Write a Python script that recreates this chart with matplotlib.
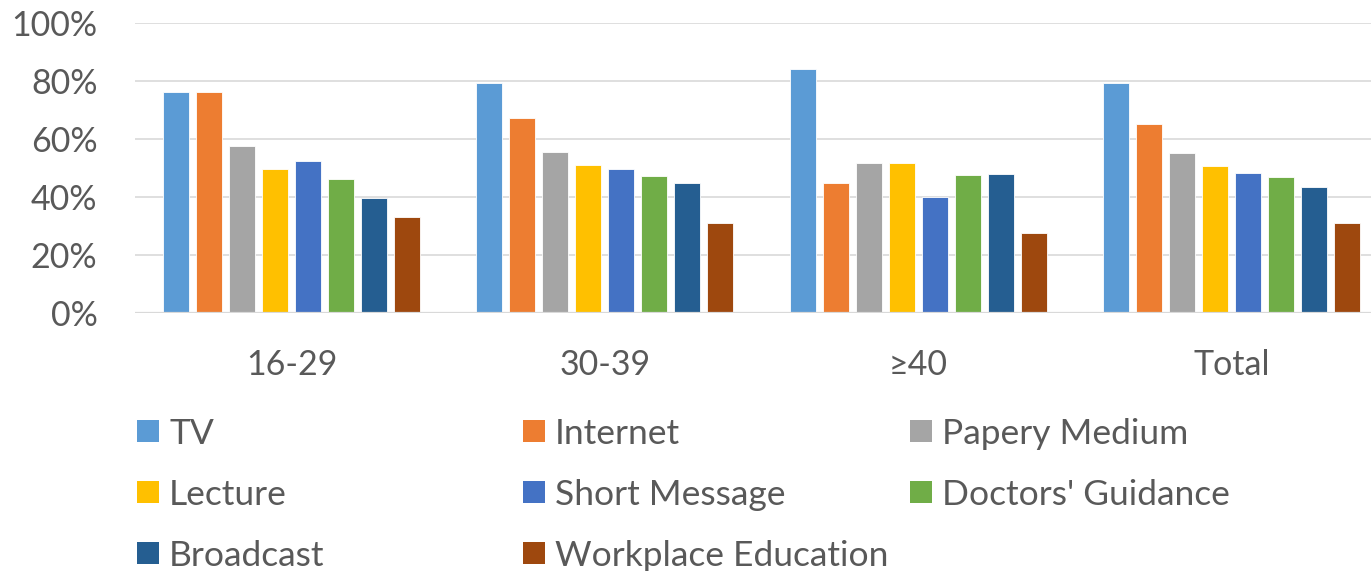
import numpy as np
import matplotlib.pyplot as plt
from matplotlib.patches import Rectangle

# ====== Data (percent of respondents) ======
groups = ["16-29", "30-39", "\u226540", "Total"]
sources = ["TV", "Internet", "Papery Medium", "Lecture", "Short Message",
           "Doctors' Guidance", "Broadcast", "Workplace Education"]

tv = [76.0, 79.3, 83.9, 79.1]
internet = [76.0, 67.0, 44.8, 65.2]
papery = [57.4, 55.3, 51.6, 55.2]
lecture = [49.4, 50.8, 51.6, 50.5]
short_msg = [52.3, 49.6, 40.0, 48.3]
doctors = [46.1, 47.2, 47.6, 46.8]
broadcast = [39.6, 44.6, 47.7, 43.3]
workplace = [33.0, 30.8, 27.4, 30.8]

series = [tv, internet, papery, lecture, short_msg, doctors, broadcast, workplace]
colors = ["#5B9BD5", "#ED7D31", "#A5A5A5", "#FFC000",
          "#4472C4", "#70AD47", "#255E91", "#9E480E"]
yticks = [0, 20, 40, 60, 80, 100]
# ===========================================

W, H = 1371, 571
TEXT = "#595959"
FONT = "Lato"

fig = plt.figure(figsize=(W / 100, H / 100), dpi=100)
ax = fig.add_axes([135 / W, 258.3 / H, 1253 / W, 290 / H])

x = np.arange(len(groups))
pitch = 33 / 313.3
width = 26 / 313.3
for i, (vals, c) in enumerate(zip(series, colors)):
    ax.bar(x + (i - 3.5) * pitch, vals, width, color=c,
           edgecolor="white", linewidth=0.6, zorder=3)

ax.set_xlim(-0.5, len(groups) - 0.5)
ax.set_ylim(0, 100)
ax.set_yticks(yticks)
ax.set_yticklabels([f"{t}%" for t in yticks])
ax.set_xticks(x)
ax.set_xticklabels(groups)
ax.yaxis.grid(True, color="#d9d9d9", linewidth=1.2, zorder=0)
ax.axhline(0, color="#d9d9d9", linewidth=1.6, zorder=4)
for s in ax.spines.values():
    s.set_visible(False)
ax.tick_params(axis="y", length=0, pad=27, labelsize=24.5, labelcolor=TEXT)
ax.tick_params(axis="x", length=0, pad=26, labelsize=24.5, labelcolor=TEXT)
for lab in ax.get_xticklabels() + ax.get_yticklabels():
    lab.set_fontfamily(FONT)

# --- legend laid out row by row, three equal columns ---
col_x = [137, 523, 910]
row_y = [431, 492, 553]
sq = 22
for i, (name, c) in enumerate(zip(sources, colors)):
    r, k = divmod(i, 3)
    x0, yc = col_x[k], row_y[r]
    fig.add_artist(Rectangle((x0 / W, (H - yc - sq / 2) / H), sq / W, sq / H,
                             transform=fig.transFigure, color=c, lw=0))
    fig.text((x0 + 32) / W, (H - yc) / H, name, fontsize=25.5, color=TEXT,
             family=FONT, va="center_baseline", ha="left")

fig.savefig("out.png", dpi=100)
